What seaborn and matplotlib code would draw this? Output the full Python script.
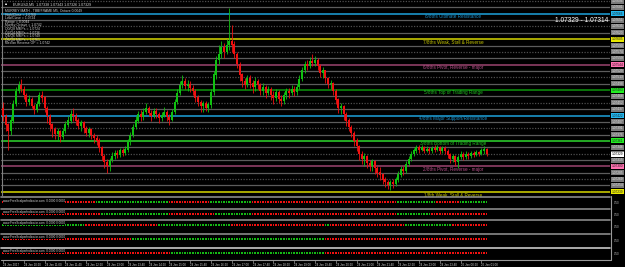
import matplotlib
matplotlib.use("Agg")
import matplotlib.pyplot as plt
import matplotlib.transforms as mtransforms
from matplotlib.lines import Line2D
import numpy as np
import pandas as pd
import seaborn as sns

# ---------------- data (prices in points, 1e-5) ----------------
closes = [107420, 107400, 107385, 107410, 107450, 107480, 107495, 107485, 107470, 107455,
          107462, 107445, 107435, 107450, 107470, 107465, 107440, 107420, 107400, 107390,
          107378, 107385, 107370, 107385, 107400, 107410, 107425, 107420, 107410, 107398,
          107405, 107392, 107380, 107388, 107375, 107368, 107362, 107345, 107325, 107310,
          107300, 107315, 107325, 107332, 107328, 107338, 107332, 107340, 107358, 107375,
          107395, 107410, 107425, 107418, 107430, 107440, 107428, 107420, 107432, 107425,
          107415, 107422, 107430, 107418, 107412, 107430, 107455, 107475, 107495, 107505,
          107492, 107498, 107488, 107480, 107465, 107455, 107445, 107452, 107440, 107448,
          107478, 107520, 107555, 107570, 107585, 107575, 107590, 107600, 107592, 107570,
          107545, 107520, 107505, 107495, 107512, 107500, 107490, 107505, 107495, 107480,
          107490, 107475, 107485, 107470, 107465, 107478, 107462, 107458, 107470, 107480,
          107475, 107485, 107478, 107490, 107510, 107530, 107545, 107540, 107552, 107548,
          107555, 107540, 107525, 107530, 107512, 107498, 107500, 107480, 107460, 107440,
          107445, 107425, 107410, 107395, 107380, 107362, 107348, 107330, 107318, 107325,
          107308, 107300, 107312, 107295, 107285, 107280, 107268, 107262, 107255, 107262,
          107258, 107268, 107280, 107292, 107288, 107305, 107318, 107330, 107338, 107345,
          107340, 107345, 107338, 107342, 107336, 107344, 107340, 107346, 107338, 107343,
          107337, 107328, 107318, 107325, 107310, 107322, 107330, 107322, 107330, 107325,
          107332, 107328, 107334, 107330, 107338, 107342, 107329]
opens = [107440, 107420, 107400, 107385, 107410, 107450, 107480, 107495, 107485, 107470,
         107455, 107462, 107445, 107435, 107450, 107470, 107465, 107440, 107420, 107400,
         107390, 107378, 107385, 107370, 107385, 107400, 107410, 107425, 107420, 107410,
         107398, 107405, 107392, 107380, 107388, 107375, 107368, 107362, 107345, 107325,
         107310, 107300, 107315, 107325, 107332, 107328, 107338, 107332, 107340, 107358,
         107375, 107395, 107410, 107425, 107418, 107430, 107440, 107428, 107420, 107432,
         107425, 107415, 107422, 107430, 107418, 107412, 107430, 107455, 107475, 107495,
         107505, 107492, 107498, 107488, 107480, 107465, 107455, 107445, 107452, 107440,
         107448, 107478, 107520, 107555, 107570, 107585, 107575, 107590, 107600, 107592,
         107570, 107545, 107520, 107505, 107495, 107512, 107500, 107490, 107505, 107495,
         107480, 107490, 107475, 107485, 107470, 107465, 107478, 107462, 107458, 107470,
         107480, 107475, 107485, 107478, 107490, 107510, 107530, 107545, 107540, 107552,
         107548, 107555, 107540, 107525, 107530, 107512, 107498, 107500, 107480, 107460,
         107440, 107445, 107425, 107410, 107395, 107380, 107362, 107348, 107330, 107318,
         107325, 107308, 107300, 107312, 107295, 107285, 107280, 107268, 107262, 107255,
         107262, 107258, 107268, 107280, 107292, 107288, 107305, 107318, 107330, 107338,
         107345, 107340, 107345, 107338, 107342, 107336, 107344, 107340, 107346, 107338,
         107343, 107337, 107328, 107318, 107325, 107310, 107322, 107330, 107322, 107330,
         107325, 107332, 107328, 107334, 107330, 107338, 107342]
highs = [107455, 107425, 107405, 107420, 107460, 107490, 107505, 107510, 107492, 107475,
         107470, 107466, 107450, 107458, 107478, 107480, 107468, 107445, 107425, 107405,
         107395, 107392, 107388, 107392, 107408, 107420, 107435, 107440, 107428, 107415,
         107412, 107410, 107398, 107395, 107392, 107380, 107375, 107368, 107350, 107330,
         107318, 107320, 107335, 107340, 107340, 107345, 107345, 107350, 107365, 107382,
         107402, 107420, 107432, 107435, 107440, 107452, 107445, 107435, 107440, 107440,
         107430, 107430, 107442, 107435, 107425, 107438, 107462, 107485, 107505, 107520,
         107512, 107508, 107505, 107495, 107485, 107472, 107460, 107458, 107458, 107455,
         107485, 107528, 107565, 107590, 107600, 107595, 107605, 107680, 107640, 107600,
         107575, 107550, 107525, 107512, 107520, 107518, 107508, 107515, 107510, 107500,
         107500, 107495, 107492, 107490, 107480, 107485, 107482, 107470, 107478, 107488,
         107488, 107495, 107492, 107498, 107518, 107538, 107552, 107555, 107562, 107570,
         107565, 107560, 107545, 107538, 107532, 107515, 107508, 107502, 107485, 107465,
         107452, 107448, 107430, 107415, 107400, 107385, 107368, 107352, 107338, 107332,
         107328, 107315, 107318, 107315, 107300, 107298, 107285, 107275, 107268, 107268,
         107270, 107275, 107288, 107300, 107300, 107312, 107325, 107338, 107345, 107352,
         107352, 107352, 107350, 107348, 107346, 107350, 107352, 107352, 107350, 107350,
         107348, 107342, 107332, 107330, 107328, 107328, 107338, 107335, 107338, 107335,
         107338, 107338, 107340, 107338, 107345, 107348, 107345]
lows = [107410, 107385, 107340, 107375, 107405, 107445, 107475, 107478, 107462, 107445,
        107448, 107440, 107425, 107430, 107445, 107455, 107430, 107405, 107385, 107370,
        107365, 107360, 107358, 107365, 107380, 107395, 107405, 107410, 107400, 107390,
        107385, 107380, 107372, 107370, 107365, 107355, 107352, 107335, 107315, 107295,
        107283, 107290, 107310, 107318, 107320, 107322, 107325, 107328, 107335, 107352,
        107370, 107390, 107405, 107410, 107412, 107425, 107420, 107410, 107415, 107415,
        107405, 107408, 107418, 107410, 107400, 107408, 107425, 107450, 107470, 107488,
        107485, 107480, 107478, 107470, 107455, 107445, 107430, 107430, 107432, 107430,
        107440, 107470, 107510, 107545, 107560, 107560, 107570, 107580, 107575, 107560,
        107535, 107505, 107490, 107485, 107490, 107488, 107475, 107480, 107485, 107470,
        107472, 107465, 107470, 107460, 107450, 107458, 107452, 107445, 107450, 107462,
        107465, 107470, 107468, 107472, 107485, 107505, 107525, 107530, 107535, 107540,
        107540, 107530, 107515, 107512, 107500, 107488, 107485, 107470, 107450, 107428,
        107425, 107412, 107398, 107385, 107370, 107350, 107338, 107315, 107305, 107300,
        107295, 107288, 107290, 107282, 107275, 107268, 107258, 107250, 107245, 107243,
        107248, 107252, 107262, 107275, 107280, 107285, 107300, 107312, 107325, 107332,
        107332, 107336, 107332, 107334, 107330, 107332, 107335, 107336, 107330, 107333,
        107330, 107320, 107308, 107310, 107300, 107295, 107318, 107315, 107318, 107318,
        107320, 107322, 107325, 107324, 107328, 107330, 107325]

time_labels = ["24 Jan 2017", "24 Jan 10:20", "24 Jan 11:00", "24 Jan 11:40", "24 Jan 12:20",
               "24 Jan 13:00", "24 Jan 13:40", "24 Jan 14:20", "24 Jan 15:00", "24 Jan 15:40",
               "24 Jan 16:20", "24 Jan 17:00", "24 Jan 17:40", "24 Jan 18:20", "24 Jan 19:00",
               "24 Jan 19:40", "24 Jan 20:20", "24 Jan 21:00", "24 Jan 21:40", "24 Jan 22:20",
               "24 Jan 23:00", "24 Jan 23:40", "25 Jan 00:20", "25 Jan 01:00"]

level_prices = [1.07239, 1.07300, 1.07361, 1.07422, 1.07483, 1.07544, 1.07605, 1.07666]
level_names = ["1/8th Weak, Stall & Reverse", "2/8ths Pivot, Reverse - major",
               "3/8ths Bottom of Trading Range", "4/8ths Major Support/Resistance",
               "5/8ths Top of Trading Range", "6/8ths Pivot, Reverse - major",
               "7/8ths Weak, Stall & Reverse", "8/8ths Ultimate Resistance"]
level_line_colors = ["#d8d800", "#9c4470", "#2ed82e", "#1ea2dc", "#0e960e", "#9c4470", "#d8d800", "#1ea2dc"]
level_text_colors = ["#c8c800", "#b8508a", "#22c022", "#1e90c8", "#22c022", "#b8508a", "#c8c800", "#1e90c8"]
level_tag_colors = ["#e8e800", "#ff70b0", "#22ee22", "#22b8f0", "#22ee22", "#ff70b0", "#e8e800", "#22b8f0"]

info_lines = ["MURREY MATH - TIMEFRAME M5, Octave 0.0049",
              "High/Close = 1.0768",
              "Low/Close = 1.0724",
              "Range = 0.0044",
              "Murrey Octave = 1.0742",
              "Q0/Q8 MMPs = 1.0724",
              "Q2/Q4 MMPs = 1.0736",
              "Q4/Q6 MMPs = 1.0749",
              "Q6/Q8 MMPs = 1.0761",
              "Median Reverse OP = 1.0742"]
header_text = "EURUSD,M5  1.07338 1.07343 1.07326 1.07329"
bid_ask_text = "1.07329 - 1.07314"
panel_text = "www.FreeScalperIndicator.com  0.0000 0.0000"

# signal runs per indicator panel: (first candle, state)
panel_runs = [
    [(0, "down"), (36, "up"), (64, "down"), (80, "up"), (96, "down"), (152, "up"), (167, "down"), (176, "up")],
    [(0, "down"), (38, "up"), (64, "down"), (82, "up"), (96, "down"), (152, "up"), (165, "down")],
    [(0, "up"), (32, "down"), (60, "up"), (88, "down"), (124, "up"), (126, "down"), (155, "up"), (173, "down")],
    [(0, "down"), (50, "up"), (124, "down")],
    [(0, "down"), (65, "up"), (124, "down")],
]

# ---------------- figure ----------------
sns.set_theme(style="dark")
plt.rcParams["font.family"] = ["Liberation Sans", "DejaVu Sans"]
W, H = 625, 267
fig = plt.figure(figsize=(W / 100, H / 100), dpi=100, facecolor="black")

def px_axes(x0, y0, x1, y1):
    ax = fig.add_axes([x0 / W, 1 - y1 / H, (x1 - x0) / W, (y1 - y0) / H])
    ax.set_facecolor("black")
    for s in ax.spines.values():
        s.set_visible(False)
    ax.set_xticks([])
    ax.set_yticks([])
    ax.grid(False)
    return ax

n = len(closes)
idx = np.arange(n)
px_per_bar = 2.6
x_left = -(3 - 1) / px_per_bar
x_right = x_left + 609 / px_per_bar

o = np.array(opens) / 1e5
c = np.array(closes) / 1e5
h = np.maximum.reduce([np.array(highs) / 1e5, o, c])
l = np.minimum.reduce([np.array(lows) / 1e5, o, c])

ax = px_axes(1, 0, 610, 196)
ax.set_xlim(x_left, x_right)
ax.set_ylim(1.07229, 1.07699)

# quarter grid lines
step = (level_prices[1] - level_prices[0]) / 4
grid_prices = []
for m in range(-1, 34):
    p = level_prices[0] + m * step
    if m % 4 == 0:
        continue
    if m % 4 == 2:
        ax.axhline(p, color="#4e4e4e", lw=0.9, ls=(0, (1, 1.2)), zorder=1)
    else:
        ax.axhline(p, color="#5c5c5c", lw=0.9, zorder=1)
    grid_prices.append(p)

for p, col, tcol, name in zip(level_prices, level_line_colors, level_text_colors, level_names):
    ax.axhline(p, color=col, lw=1.1, zorder=2)
    ax.text(452 / 609 * (x_right - x_left) + x_left, p - 0.00001, name, color=tcol,
            fontsize=3.3, ha="center", va="top", zorder=3)

# candles
up = c >= o
colors = np.where(up, "#10c010", "#f01010")
ax.vlines(idx, l, h, colors=colors, lw=0.6, zorder=4)
ax.bar(idx, np.abs(c - o) + 0.000006, bottom=np.minimum(o, c), width=0.75,
       color=colors, linewidth=0, zorder=5)

# left border line
ax.axvline(x_left + 1 / px_per_bar, color="#808080", lw=0.8)

# info text
ax.text(0.007, 1 - 4.3 / 196, "\u25A0", color="white", fontsize=2.5, transform=ax.transAxes, va="center")
ax.text(0.02, 1 - 4.3 / 196, header_text, color="#d8d8d8", fontsize=2.6, transform=ax.transAxes, va="center")
for k, line in enumerate(info_lines):
    ax.text(0.007, 1 - (11 + k * 3.6) / 196, line, color="#d0d0d0", fontsize=2.4,
            transform=ax.transAxes, va="center")
ax.text(1 - 1.5 / 609, 1 - 20 / 196, bid_ask_text, color="white", fontsize=4.8,
        transform=ax.transAxes, ha="right", va="center")

# right price tags
tr = mtransforms.blended_transform_factory(ax.transAxes, ax.transData)
for p in grid_prices:
    if 1.07229 < p < 1.07699:
        ax.text(1.003, p, f"{p:.5f}", color="#e0e0e0", fontsize=2.3, transform=tr, va="center",
                ha="left", clip_on=False,
                bbox=dict(boxstyle="square,pad=0.15", fc="#7a7a7a", ec="none"))
for p, tc in zip(level_prices, level_tag_colors):
    ax.text(1.003, p, f"{p:.5f}", color="#202020", fontsize=2.3, transform=tr, va="center",
            ha="left", clip_on=False, bbox=dict(boxstyle="square,pad=0.15", fc=tc, ec="none"))
ax.text(1.003, c[-1], f"{c[-1]:.5f}", color="black", fontsize=2.3, transform=tr, va="center",
        ha="left", clip_on=False, bbox=dict(boxstyle="square,pad=0.15", fc="white", ec="none"))

# ---------------- indicator panels ----------------
panel_boxes = [(198.5, 208), (210, 219), (220.5, 232.5), (234.5, 247), (249, 259.5)]
dot_rows = [202.3, 213.7, 224.7, 239.3, 253.0]
sep_rows = [197.2, 209, 219.7, 233.5, 248]
sep_colors = ["#8a8a8a", "#8a8a8a", "#8a8a8a", "#8a8a8a", "#c8c8c8"]
pax = []
for (y0, y1), yd, runs in zip(panel_boxes, dot_rows, panel_runs):
    a = px_axes(1, y0, 610, y1)
    a.set_xlim(x_left, x_right)
    frac = (y1 - yd) / (y1 - y0)
    a.set_ylim(0.5 - frac, 0.5 + (1 - frac))
    state = []
    for i in range(n):
        s = runs[0][1]
        for start, st in runs:
            if i >= start:
                s = st
        state.append(s)
    df = pd.DataFrame({"bar": idx, "value": 0.5, "signal": state})
    sns.scatterplot(data=df, x="bar", y="value", hue="signal",
                    palette={"up": "#14b814", "down": "#f01010"}, marker="s", s=1.6,
                    linewidth=0, legend=False, ax=a)
    a.set_xlabel("")
    a.set_ylabel("")
    a.set_xticks([])
    a.set_yticks([])
    a.text(0.003, 1 - 2.2 / (y1 - y0), panel_text, color="#d0d0d0", fontsize=2.2,
           transform=a.transAxes, va="center", ha="left",
           bbox=dict(boxstyle="square,pad=0.05", fc="black", ec="none"))
    a.text(1.006, 0.5, "0.50", color="#c0c0c0", fontsize=2.0, transform=a.transAxes, va="center")
    pax.append(a)

for yy, col in zip(sep_rows, sep_colors):
    fig.add_artist(Line2D([1 / W, 610 / W], [1 - yy / H, 1 - yy / H], color=col, lw=1.2))
fig.add_artist(Line2D([1 / W, 611 / W], [1 - 259.8 / H, 1 - 259.8 / H], color="#9a9a9a", lw=0.8))
fig.add_artist(Line2D([611 / W, 611 / W], [1 - 259.8 / H, 1 - 196 / H], color="#9a9a9a", lw=0.8))

# time axis
bot = pax[-1]
tick_pos = idx[::8][:len(time_labels)]
bot.set_xticks(tick_pos)
bot.set_xticklabels(time_labels, fontsize=2.1, color="#d0d0d0", ha="left")
bot.tick_params(axis="x", length=2, width=0.5, color="#9a9a9a", pad=0.6, direction="out", bottom=True)

fig.savefig("out.png", dpi=100, facecolor="black")
